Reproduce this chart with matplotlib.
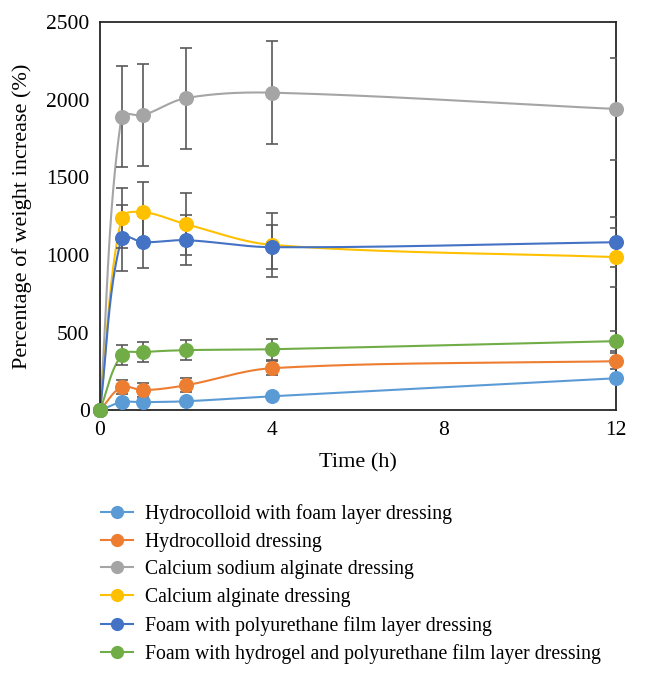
import numpy as np
from matplotlib import pyplot as plt

plt.rcParams['font.family'] = ['Liberation Serif', 'DejaVu Serif']

time_h = [0, 0.5, 1, 2, 4, 12]

labels = ["Hydrocolloid with foam layer dressing",
          "Hydrocolloid dressing",
          "Calcium sodium alginate dressing",
          "Calcium alginate dressing",
          "Foam with polyurethane film layer dressing",
          "Foam with hydrogel and polyurethane film layer dressing"]

hydrocolloid_foam = [0, 52, 52, 58, 90, 206]
hydrocolloid = [0, 148, 129, 161, 271, 316]
ca_na_alginate = [0, 1890, 1900, 2010, 2045, 1940]
ca_alginate = [0, 1237, 1276, 1198, 1065, 986]
foam_pu = [0, 1108, 1082, 1095, 1050, 1082]
foam_hydrogel = [0, 354, 374, 387, 393, 445]

err_hydrocolloid_foam = [0, 10, 10, 10, 12, 15]
err_hydrocolloid = [0, 45, 45, 45, 45, 50]
err_ca_na_alginate = [0, 325, 330, 325, 330, 330]
err_ca_alginate = [0, 193, 193, 200, 204, 190]
err_foam_pu = [0, 212, 167, 161, 142, 160]
err_foam_hydrogel = [0, 65, 64, 64, 68, 65]

colors = ['#5B9BD5', '#ED7D31', '#A5A5A5', '#FFC000', '#4472C4', '#70AD47']

series = [hydrocolloid_foam, hydrocolloid, ca_na_alginate,
          ca_alginate, foam_pu, foam_hydrogel]
errors = [err_hydrocolloid_foam, err_hydrocolloid, err_ca_na_alginate,
          err_ca_alginate, err_foam_pu, err_foam_hydrogel]


def smooth(x, y, sx=43.0, sy=388 / 2500.0, n=40):
    # smoothed line like the spreadsheet one: bezier with tangent from
    # neighbours, handle length = a third of the segment (pixel space)
    p = np.column_stack([np.array(x) * sx, np.array(y) * sy])
    m = len(p)
    d = np.zeros_like(p)
    for i in range(m):
        a = p[max(i - 1, 0)]
        b = p[min(i + 1, m - 1)]
        v = b - a
        d[i] = v / np.hypot(*v)
    t = np.linspace(0, 1, n)[:, None]
    out = []
    for i in range(m - 1):
        p1, p2 = p[i], p[i + 1]
        L = np.hypot(*(p2 - p1)) / 3.0
        c1 = p1 + d[i] * L
        c2 = p2 - d[i + 1] * L
        seg = ((1 - t) ** 3) * p1 + 3 * ((1 - t) ** 2) * t * c1 \
            + 3 * (1 - t) * t ** 2 * c2 + t ** 3 * p2
        out.append(seg)
    out = np.vstack(out)
    return out[:, 0] / sx, out[:, 1] / sy


fig = plt.figure(figsize=(6.68, 6.77), dpi=100)
ax = fig.add_axes([0.1497, 0.394, 0.7725, 0.5735])

for i in range(len(series)):
    xs, ys = smooth(time_h, series[i])
    ax.plot(xs, ys, color=colors[i], lw=1.5, zorder=2 + i * 0.1)
    ax.errorbar(time_h, series[i], yerr=errors[i], fmt='none',
                ecolor='#595959', elinewidth=1.2, capsize=4.5,
                capthick=1.2, zorder=3)
for i in range(len(series)):
    ax.plot(time_h, series[i], 'o', color=colors[i], ms=9.8,
            clip_on=False, zorder=4 + i * 0.1)
    # legend handle
    ax.plot([], [], '-o', color=colors[i], ms=8.5, lw=1.5, label=labels[i])

ax.set_xlim(0, 12)
ax.set_ylim(0, 2500)
ax.set_xticks([0, 4, 8, 12])
ax.set_yticks([0, 500, 1000, 1500, 2000, 2500])
ax.tick_params(length=0, labelsize=15.5, pad=7.5, colors='black')
for s in ax.spines.values():
    s.set_color('#262626')
    s.set_linewidth(1.3)

ax.set_xlabel('Time (h)', fontsize=16, labelpad=10)
ax.set_ylabel('Percentage of weight increase (%)', fontsize=16, labelpad=10)

fig.legend(loc='upper left', bbox_to_anchor=(0.14, 0.267), frameon=False,
           fontsize=14.2, handlelength=1.6, handletextpad=0.6,
           labelspacing=0.44, borderaxespad=0)

fig.savefig('out.png', dpi=100)
